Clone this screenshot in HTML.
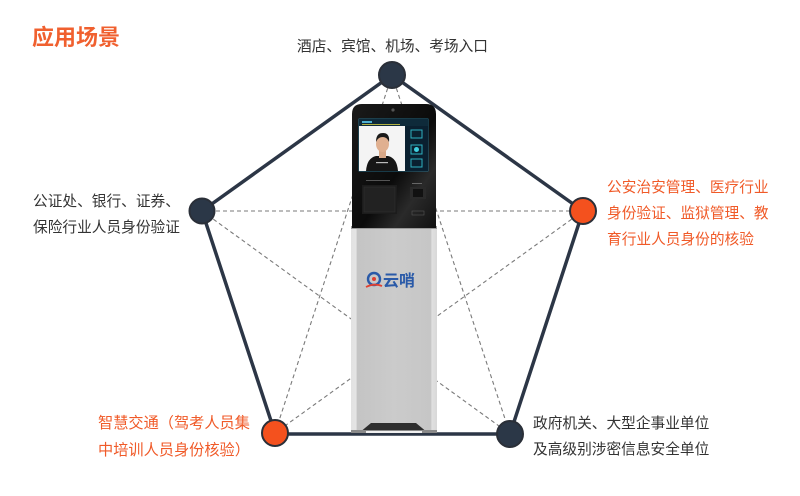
<!DOCTYPE html>
<html><head><meta charset="utf-8">
<style>
html,body{margin:0;padding:0;background:#fff;}
body{width:800px;height:496px;position:relative;overflow:hidden;font-family:"Liberation Sans","Noto Sans CJK SC",sans-serif;}
.t{position:absolute;font-size:14.7px;line-height:26px;color:#333;white-space:nowrap;}
.o{color:#f05a28;}
#title{position:absolute;left:32px;top:23px;font-size:22px;line-height:30px;font-weight:bold;color:#f0602f;letter-spacing:0px;}
svg{position:absolute;left:0;top:0;}
</style></head><body>
<svg width="800" height="496" viewBox="0 0 800 496">
  <defs>
    <linearGradient id="head" x1="0" y1="0" x2="1" y2="1">
      <stop offset="0" stop-color="#1a1a1a"/>
      <stop offset="0.55" stop-color="#0b0b0b"/>
      <stop offset="0.75" stop-color="#2a2a2a"/>
      <stop offset="1" stop-color="#111"/>
    </linearGradient>
    <linearGradient id="body" x1="0" y1="0" x2="1" y2="0">
      <stop offset="0" stop-color="#e2e2e2"/>
      <stop offset="0.06" stop-color="#e4e4e4"/>
      <stop offset="0.07" stop-color="#c4c4c4"/>
      <stop offset="0.5" stop-color="#cbcbcb"/>
      <stop offset="0.93" stop-color="#c6c6c6"/>
      <stop offset="0.94" stop-color="#e0e0e0"/>
      <stop offset="1" stop-color="#d8d8d8"/>
    </linearGradient>
  </defs>
  <!-- dashed pentagram -->
  <g stroke="#7a7a7a" stroke-width="1.1" stroke-dasharray="4 3" fill="none">
    <line x1="392" y1="75" x2="275" y2="433"/>
    <line x1="392" y1="75" x2="510" y2="434"/>
    <line x1="202" y1="211" x2="583" y2="211"/>
    <line x1="202" y1="211" x2="510" y2="434"/>
    <line x1="583" y1="211" x2="275" y2="433"/>
  </g>
  <!-- pentagon edges -->
  <g stroke="#2c3646" stroke-width="3.5" fill="none" stroke-linecap="round">
    <line x1="392" y1="75" x2="202" y2="211"/>
    <line x1="392" y1="75" x2="583" y2="211"/>
    <line x1="202" y1="211" x2="275" y2="433"/>
    <line x1="583" y1="211" x2="510" y2="434"/>
    <line x1="275" y1="434" x2="510" y2="434"/>
  </g>
  <!-- kiosk body -->
  <rect x="351" y="226" width="86" height="207" fill="url(#body)"/>
  <rect x="351" y="226" width="86" height="3" fill="#9a9a9a"/>
  <!-- base -->
  <polygon points="359,433 371,423 416,423 428,433" fill="#2e2e2e"/>
  <rect x="351" y="430" width="86" height="3" fill="#8a8a8a"/>
  <rect x="366" y="431" width="56" height="2" fill="#f0f0f0"/>
  <!-- head -->
  <path d="M352,228 L352,114 Q352,104 362,104 L426,104 Q436,104 436,114 L436,228 Z" fill="url(#head)"/>
  <circle cx="393" cy="110" r="1.6" fill="#555"/>
  <!-- screen -->
  <rect x="359" y="119" width="69" height="52" fill="#0c1c28" stroke="#2a7fa0" stroke-width="0.8"/>
  <rect x="359" y="119" width="69" height="7" fill="#0e2a3a"/>
  <rect x="362" y="121" width="10" height="2" fill="#4fb0d0"/>
  <rect x="362" y="124" width="38" height="1" fill="#b0b040"/>
  <rect x="359" y="126" width="46" height="45" fill="#f4f4f4"/>
  <!-- person -->
  <path d="M366,171 Q367,158 376,156 L388,156 Q397,158 398,171 Z" fill="#161616"/>
  <rect x="379" y="150" width="7" height="8" fill="#d8a888"/>
  <ellipse cx="382.5" cy="144" rx="6.5" ry="8" fill="#e0b090"/>
  <path d="M376,142 Q376,133 383,133 Q390,133 389,142 Q387,137 383,137 Q378,137 376,142 Z" fill="#1a1a1a"/>
  <rect x="376" y="162" width="12" height="1.2" fill="#bbb"/>
  <!-- right panel icons -->
  <rect x="405" y="126" width="23" height="45" fill="#0a2030"/>
  <g fill="none" stroke="#2fb0c0" stroke-width="1">
    <rect x="411" y="130" width="11" height="8"/>
    <rect x="411" y="145" width="11" height="9"/>
    <rect x="411" y="159" width="11" height="8"/>
  </g>
  <circle cx="416.5" cy="149.5" r="2.5" fill="#40d0e0"/>
  <!-- lower head parts -->
  <rect x="366" y="180" width="24" height="1" fill="#555"/>
  <rect x="362" y="185" width="35" height="29" fill="#1c1c1c"/>
  <rect x="364" y="187" width="31" height="25" fill="#222" stroke="#303030" stroke-width="0.5"/>
  <rect x="412" y="183" width="10" height="1" fill="#666"/>
  <rect x="410" y="187" width="16" height="12" fill="#2a2a2a"/>
  <rect x="413" y="189" width="10" height="8" fill="#111"/>
  <rect x="412" y="211" width="12" height="4" fill="none" stroke="#555" stroke-width="0.6"/>
  <!-- logo -->
  <circle cx="374" cy="279" r="6" fill="none" stroke="#2a5aa8" stroke-width="2.4"/>
  <circle cx="374" cy="279" r="2" fill="#e04030"/>
  <path d="M366,287 Q374,283 382,286" stroke="#e04030" stroke-width="1.8" fill="none"/>
  <text x="383" y="286" font-family="Liberation Sans, Noto Sans CJK SC, sans-serif" font-size="16" font-weight="bold" fill="#2a5aa8">云哨</text>
  <!-- nodes -->
  <g stroke="#2a2f38" stroke-width="2">
    <circle cx="392" cy="75" r="13" fill="#2b3747"/>
    <circle cx="202" cy="211" r="12.5" fill="#2b3747"/>
    <circle cx="583" cy="211" r="13" fill="#f4511e"/>
    <circle cx="275" cy="433" r="13" fill="#f4511e"/>
    <circle cx="510" cy="434" r="13" fill="#2b3747"/>
  </g>
</svg>
<div id="title">应用场景</div>
<div class="t" style="left:297px;top:34px;">酒店、宾馆、机场、考场入口</div>
<div class="t" style="left:33px;top:189px;">公证处、银行、证券、<br>保险行业人员身份验证</div>
<div class="t o" style="left:607px;top:175px;">公安治安管理、医疗行业<br>身份验证、监狱管理、教<br>育行业人员身份的核验</div>
<div class="t o" style="left:98px;top:410px;line-height:27px;font-size:15.2px;">智慧交通（驾考人员集<br>中培训人员身份核验）</div>
<div class="t" style="left:533px;top:411px;">政府机关、大型企事业单位<br>及高级别涉密信息安全单位</div>
</body></html>
